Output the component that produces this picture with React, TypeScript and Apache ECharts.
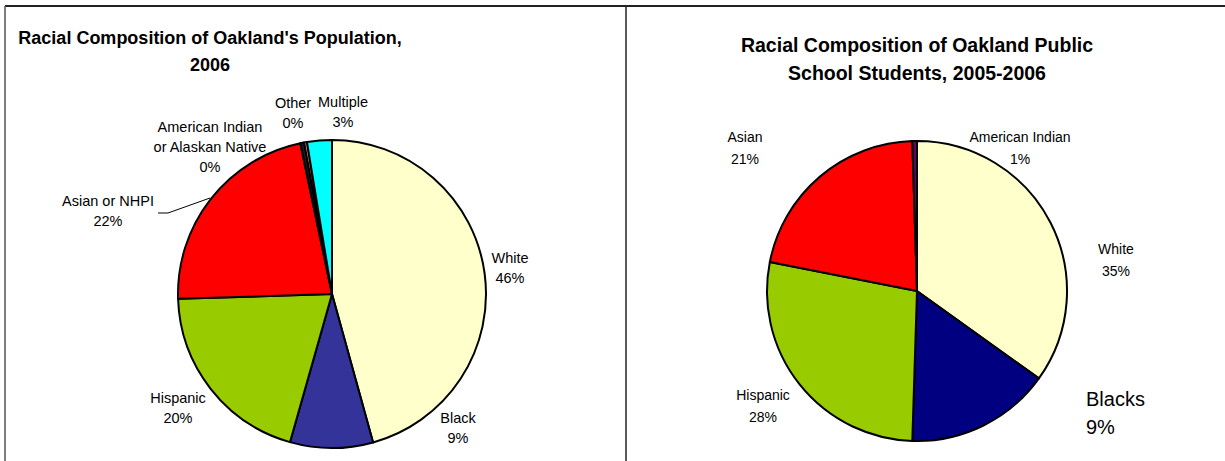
import React, { useEffect, useRef } from "react";
import * as echarts from "echarts";

// Left chart: Oakland population 2006
const popCategories = ["White", "Black", "Hispanic", "Asian or NHPI", "American Indian\nor Alaskan Native", "Other", "Multiple"];
const popValues = [45.7, 8.7, 20.1, 22.2, 0.4, 0.3, 2.6];
const popLabels = ["46%", "9%", "20%", "22%", "0%", "0%", "3%"];
const popColors = ["#FFFFCC", "#333399", "#99CC00", "#FF0000", "#1A1A1A", "#FF9999", "#00FFFF"];

// Right chart: Oakland public school students 2005-2006
const schoolCategories = ["White", "Blacks", "Hispanic", "Asian", "American Indian"];
const schoolValues = [34.9, 15.6, 27.6, 21.4, 0.5];
const schoolLabels = ["35%", "9%", "28%", "21%", "1%"];
const schoolColors = ["#FFFFCC", "#000080", "#99CC00", "#FF0000", "#660066"];

const leftTitle = "Racial Composition of Oakland's Population,\n2006";
const rightTitle = "Racial Composition of Oakland Public\nSchool Students, 2005-2006";

// label anchor positions (layout only)
const popLabelPos: [number, number][] = [
  [510, 268], [458, 428], [178, 408], [108, 211], [210, 147], [293, 113], [343, 112],
];
const schoolLabelPos: [number, number][] = [
  [1116, 260], [1086, 413], [763, 406], [745, 148], [1020, 148],
];

const FONT = "Liberation Sans, Arial, sans-serif";

export default function App() {
  const ref = useRef<HTMLDivElement>(null);
  useEffect(() => {
    if (!ref.current) return;
    const chart = echarts.init(ref.current, undefined, { renderer: "svg" });
    const option: any = {
      animation: false,
      backgroundColor: "#FFFFFF",
      textStyle: { fontFamily: FONT },
      graphic: [
        { type: "line", shape: { x1: 5, y1: 6, x2: 1225, y2: 6 }, style: { stroke: "#222", lineWidth: 2 } },
        { type: "line", shape: { x1: 5, y1: 6, x2: 5, y2: 461 }, style: { stroke: "#555", lineWidth: 1.5 } },
        { type: "line", shape: { x1: 626, y1: 6, x2: 626, y2: 461 }, style: { stroke: "#222", lineWidth: 1.5 } },
        {
          type: "text", x: 210, y: 24,
          style: { text: leftTitle, fontFamily: FONT, fontWeight: "bold", fontSize: 18, lineHeight: 27, textAlign: "center", fill: "#000" },
        },
        {
          type: "text", x: 917, y: 31,
          style: { text: rightTitle, fontFamily: FONT, fontWeight: "bold", fontSize: 19.5, lineHeight: 28, textAlign: "center", fill: "#000" },
        },
      ],
      series: [
        {
          type: "pie",
          center: [332, 294],
          radius: 154,
          startAngle: 90,
          clockwise: true,
          avoidLabelOverlap: false,
          itemStyle: { borderColor: "#000", borderWidth: 2 },
          label: {
            show: true,
            position: "outside",
            fontFamily: FONT,
            fontSize: 14.5,
            lineHeight: 20,
            color: "#000",
            align: "center",
            formatter: (p: any) => popCategories[p.dataIndex] + "\n" + popLabels[p.dataIndex],
          },
          labelLine: { show: false },
          labelLayout: (p: any) => {
            const [x, y] = popLabelPos[p.dataIndex];
            const res: any = { x, y, align: "center", verticalAlign: "middle" };
            if (p.dataIndex === 3) res.labelLinePoints = [[158, 213], [168, 213], [210, 198]];
            return res;
          },
          emphasis: { disabled: true },
          data: popValues.map((v, i) => ({
            value: v,
            name: popCategories[i],
            itemStyle: { color: popColors[i] },
            labelLine: i === 3 ? { show: true, lineStyle: { color: "#000", width: 1 } } : { show: false },
          })),
        },
        {
          type: "pie",
          center: [917, 291],
          radius: 150,
          startAngle: 90,
          clockwise: true,
          avoidLabelOverlap: false,
          itemStyle: { borderColor: "#000", borderWidth: 2 },
          label: {
            show: true,
            position: "outside",
            fontFamily: FONT,
            fontSize: 14,
            lineHeight: 22,
            color: "#000",
            align: "center",
            formatter: (p: any) => schoolCategories[p.dataIndex] + "\n" + schoolLabels[p.dataIndex],
          },
          labelLine: { show: false },
          labelLayout: (p: any) => {
            const [x, y] = schoolLabelPos[p.dataIndex];
            if (p.dataIndex === 1) return { x, y, align: "left", verticalAlign: "middle" };
            return { x, y, align: "center", verticalAlign: "middle" };
          },
          emphasis: { disabled: true },
          data: schoolValues.map((v, i) => ({
            value: v,
            name: schoolCategories[i],
            itemStyle: { color: schoolColors[i] },
            label: i === 1 ? { fontSize: 20, lineHeight: 28, align: "left" } : undefined,
          })),
        },
      ],
    };
    chart.setOption(option);
    return () => chart.dispose();
  }, []);
  return (
    <div
      ref={ref}
      style={{ position: "fixed", left: 0, top: 0, width: 1225, height: 461, background: "#fff" }}
    />
  );
}
